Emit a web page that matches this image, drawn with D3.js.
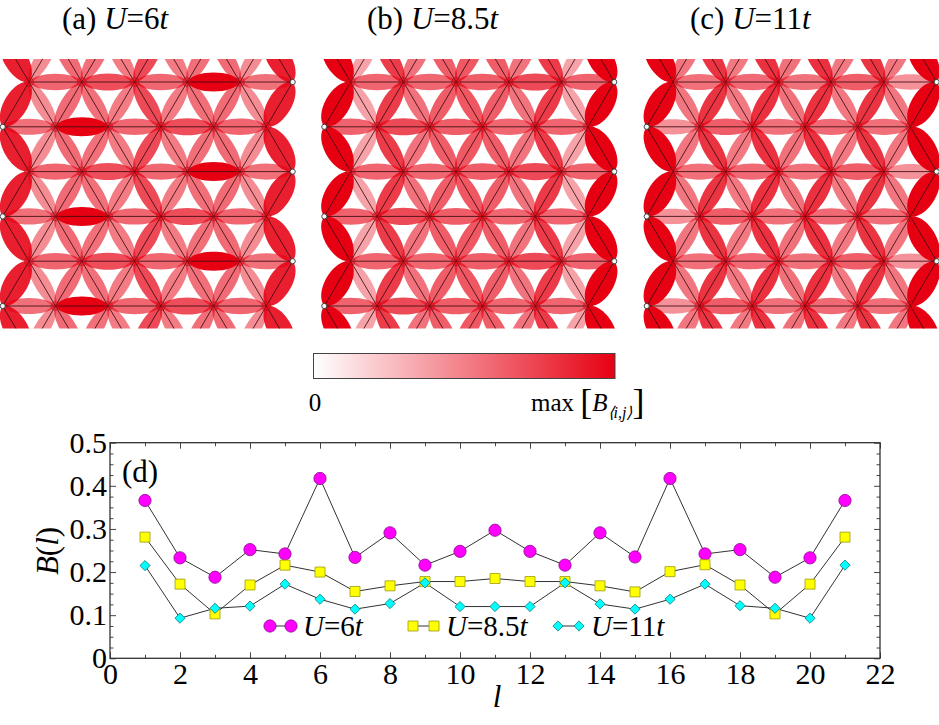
<!DOCTYPE html>
<html>
<head>
<meta charset="utf-8">
<script src="https://cdn.jsdelivr.net/npm/d3@7"></script>
<style>
  body { margin: 0; background: #fff; }
  svg text { font-family: "Liberation Serif", "Times New Roman", serif; }
</style>
</head>
<body>
<svg id="chart" width="939" height="725"></svg>
<script>
// bond column index l (1..21) and the averaged bond values B(l) for each U
const bondCols = d3.range(1, 22);
const B6 = [0.366, 0.233, 0.188, 0.252, 0.242, 0.417, 0.234, 0.291, 0.216, 0.248, 0.297,
            0.248, 0.216, 0.291, 0.235, 0.417, 0.242, 0.252, 0.188, 0.233, 0.366];
const B85 = [0.281, 0.172, 0.103, 0.170, 0.216, 0.200, 0.155, 0.168, 0.178, 0.178, 0.185,
             0.178, 0.178, 0.168, 0.154, 0.201, 0.217, 0.170, 0.103, 0.172, 0.281];
const B11 = [0.215, 0.093, 0.116, 0.121, 0.172, 0.137, 0.114, 0.127, 0.175, 0.120, 0.120,
             0.120, 0.175, 0.126, 0.114, 0.137, 0.172, 0.122, 0.116, 0.093, 0.216];
const uLabels = ["6", "8.5", "11"];
const panelTags = ["(a)", "(b)", "(c)"];
const xTicks = d3.range(0, 23, 2);
const yTicks = [0, 0.1, 0.2, 0.3, 0.4, 0.5];

const RED = "#e60012";
const FONT = '"Liberation Serif", "Times New Roman", serif';
const svg = d3.select("#chart");

// ---------------- lattice panels ----------------
const nCols = 12, nRows = 9;          // half-column positions 0..11, rows 0..8 (rows 0 and 8 clipped)
const panelX = [2.7, 324.3, 646.7];
const panelW = 290;
const rowY0 = 37.2, rowDy = 44.8;

const defs = svg.append("defs");
defs.append("clipPath").attr("id", "latticeClip")
  .append("rect").attr("x", -30).attr("y", 59).attr("width", 1000).attr("height", 269.5);

function lensPath(p0, p1, hw) {
  // petal shape between two sites, max half-width hw at the middle
  const dx = p1[0] - p0[0], dy = p1[1] - p0[1];
  const L = Math.hypot(dx, dy);
  const ux = dx / L, uy = dy / L, nx = -uy, ny = ux;
  const k = hw / 0.75, a = 0.12 * L;
  const c = (p, s, t) => [p[0] + ux * s + nx * t, p[1] + uy * s + ny * t];
  const q1 = c(p0, a, k), q2 = c(p1, -a, k), q3 = c(p1, -a, -k), q4 = c(p0, a, -k);
  return `M${p0[0]},${p0[1]} C${q1[0]},${q1[1]} ${q2[0]},${q2[1]} ${p1[0]},${p1[1]} ` +
         `C${q3[0]},${q3[1]} ${q4[0]},${q4[1]} ${p0[0]},${p0[1]}Z`;
}

// lattice sites and bonds (geometry only; values come from the B arrays)
const sites = [];
for (let r = 0; r < nRows; r++)
  for (let c = r % 2; c < nCols; c += 2) sites.push({ r, c });

const bonds = [];
sites.forEach(s => {
  if (s.c + 2 < nCols) bonds.push({ a: s, b: { r: s.r, c: s.c + 2 }, l: 2 * s.c + 2 });
  if (s.r + 1 < nRows) {
    [-1, 1].forEach(dc => {
      const c2 = s.c + dc;
      if (c2 >= 0 && c2 < nCols)
        bonds.push({ a: s, b: { r: s.r + 1, c: c2 }, l: 2 * Math.min(s.c, c2) + 1 });
    });
  }
});

const ySite = d3.scaleLinear().domain([0, nRows - 1]).range([rowY0, rowY0 + (nRows - 1) * rowDy]);
const widthScale = d3.scaleLinear().domain([0, 1]).range([12.5, 19]);

[B6, B85, B11].forEach((B, pi) => {
  const xSite = d3.scaleLinear().domain([0, nCols - 1]).range([panelX[pi], panelX[pi] + panelW]);
  const level = d3.scaleLinear().domain([0, d3.max(B)]).range([0, 1]);
  const g = svg.append("g").attr("clip-path", "url(#latticeClip)");
  const pos = s => [xSite(s.c), ySite(s.r)];

  g.append("g").selectAll("path").data(bonds).join("path")
    .attr("d", d => {
      const t = level(B[d.l - 1]);
      const edge = d.l === 1 || d.l === bondCols.length;
      return lensPath(pos(d.a), pos(d.b), widthScale(t) / 2 * (edge ? 1.3 : 1));
    })
    .attr("fill", RED)
    .attr("fill-opacity", d => level(B[d.l - 1]));

  g.append("g").selectAll("line").data(bonds).join("line")
    .attr("x1", d => xSite(d.a.c)).attr("y1", d => ySite(d.a.r))
    .attr("x2", d => xSite(d.b.c)).attr("y2", d => ySite(d.b.r))
    .attr("stroke", "#3d0b0e").attr("stroke-width", 1).attr("stroke-opacity", 0.85);

  const inner = sites.filter(s => s.c > 0 && s.c < nCols - 1);
  const outer = sites.filter(s => s.c === 0 || s.c === nCols - 1);
  g.append("g").selectAll("circle").data(inner).join("circle")
    .attr("cx", d => xSite(d.c)).attr("cy", d => ySite(d.r)).attr("r", 4.5)
    .attr("fill", RED).attr("fill-opacity", 0.35)
    .attr("stroke", "#a3101c").attr("stroke-opacity", 0.55).attr("stroke-width", 0.8);
  g.append("g").selectAll("circle").data(outer).join("circle")
    .attr("cx", d => xSite(d.c)).attr("cy", d => ySite(d.r)).attr("r", 2.6)
    .attr("fill", "#f4f8f4").attr("stroke", "#333").attr("stroke-width", 0.9);
});

// panel titles
const titleX = [62, 367, 690];
panelTags.forEach((tag, i) => {
  const t = svg.append("text").attr("x", titleX[i]).attr("y", 29)
    .attr("font-size", 31).attr("fill", "#000");
  t.append("tspan").text(tag + " ");
  t.append("tspan").attr("font-style", "italic").text("U");
  t.append("tspan").text("=" + uLabels[i]);
  t.append("tspan").attr("font-style", "italic").text("t");
});

// ---------------- colour bar ----------------
const grad = defs.append("linearGradient").attr("id", "cbar");
grad.append("stop").attr("offset", "0%").attr("stop-color", "#fff");
grad.append("stop").attr("offset", "100%").attr("stop-color", RED);
svg.append("rect").attr("x", 313.5).attr("y", 353.5).attr("width", 301.5).attr("height", 25)
  .attr("fill", "url(#cbar)").attr("stroke", "#444").attr("stroke-width", 1);
svg.append("text").attr("x", 315).attr("y", 411).attr("text-anchor", "middle")
  .attr("font-size", 25).text("0");
const mx = svg.append("text").attr("x", 531).attr("y", 411).attr("font-size", 25);
mx.append("tspan").text("max ");
mx.append("tspan").attr("font-size", 36).attr("dy", 3).text("[");
mx.append("tspan").attr("font-style", "italic").attr("dy", -3).text("B");
mx.append("tspan").attr("font-size", 16).attr("font-style", "italic").attr("dy", 7).text("\u27e8i,j\u27e9");
mx.append("tspan").attr("font-size", 36).attr("dy", -4).text("]");

// ---------------- B(l) plot ----------------
const plot = { left: 110, right: 880, top: 442.7, bottom: 658.3 };
const x = d3.scaleLinear().domain([0, 22]).range([plot.left, plot.right]);
const y = d3.scaleLinear().domain([0, 0.5]).range([plot.bottom, plot.top]);

const axesG = svg.append("g");
function addAxis(axis, tx, ty, size, ticks, fmt, pad) {
  const a = axis.tickValues(ticks).tickSize(size).tickPadding(pad).tickFormat(fmt);
  const g = axesG.append("g").attr("transform", `translate(${tx},${ty})`).call(a);
  g.select(".domain").remove();
  g.selectAll("line").attr("stroke", "#444").attr("stroke-width", 1);
  g.selectAll("text").attr("font-size", 30).style("font-family", FONT).attr("fill", "#000");
  return g;
}
const xMinor = d3.range(1, 22, 2);
const yMinor = d3.range(0, 0.5001, 0.025).filter(v => Math.abs(v * 10 - Math.round(v * 10)) > 1e-6);
addAxis(d3.axisBottom(x), 0, plot.bottom, -6, xTicks, d3.format("d"), 4);
addAxis(d3.axisBottom(x), 0, plot.bottom, -3.5, xMinor, () => "", 0);
addAxis(d3.axisTop(x), 0, plot.top, -6, xTicks, () => "", 0);
addAxis(d3.axisTop(x), 0, plot.top, -3.5, xMinor, () => "", 0);
addAxis(d3.axisLeft(y), plot.left, 0, -6, yTicks, d => d === 0 ? "0" : d3.format(".1f")(d), 3);
addAxis(d3.axisLeft(y), plot.left, 0, -3.5, yMinor, () => "", 0);
addAxis(d3.axisRight(y), plot.right, 0, -6, yTicks, () => "", 0);
addAxis(d3.axisRight(y), plot.right, 0, -3.5, yMinor, () => "", 0);
svg.append("rect").attr("x", plot.left).attr("y", plot.top)
  .attr("width", plot.right - plot.left).attr("height", plot.bottom - plot.top)
  .attr("fill", "none").attr("stroke", "#333").attr("stroke-width", 1.3);

// axis labels
const yl = svg.append("text").attr("transform", "translate(58,551) rotate(-90)")
  .attr("text-anchor", "middle").attr("font-size", 31);
yl.append("tspan").attr("font-style", "italic").text("B");
yl.append("tspan").text("(");
yl.append("tspan").attr("font-style", "italic").text("l");
yl.append("tspan").text(")");
svg.append("text").attr("x", 497).attr("y", 707).attr("text-anchor", "middle")
  .attr("font-size", 31).attr("font-style", "italic").text("l");
svg.append("text").attr("x", 122).attr("y", 482).attr("font-size", 31).text("(d)");

const series = [
  { u: uLabels[0], values: B6, fill: "#ff00ff", stroke: "#8a0a8a", symbol: d3.symbolCircle, size: 118, rot: 0 },
  { u: uLabels[1], values: B85, fill: "#ffff00", stroke: "#9a9a10", symbol: d3.symbolSquare, size: 100, rot: 0 },
  { u: uLabels[2], values: B11, fill: "#00ffff", stroke: "#16807f", symbol: d3.symbolSquare, size: 52, rot: 45 }
];
const line = d3.line().x((d, i) => x(bondCols[i])).y(d => y(d));

series.forEach(s => {
  svg.append("path").datum(s.values).attr("d", line)
    .attr("fill", "none").attr("stroke", "#333").attr("stroke-width", 1);
});
series.forEach(s => {
  const sym = d3.symbol().type(s.symbol).size(s.size);
  svg.append("g").selectAll("path").data(s.values).join("path")
    .attr("transform", (d, i) => `translate(${x(bondCols[i])},${y(d)}) rotate(${s.rot})`)
    .attr("d", sym)
    .attr("fill", s.fill).attr("stroke", s.stroke).attr("stroke-width", 0.8);
});

// legend
const legendX = [270, 413, 558];
const legendY = 626;
series.forEach((s, i) => {
  const lg = svg.append("g").attr("transform", `translate(${legendX[i]},${legendY})`);
  lg.append("line").attr("x1", 0).attr("x2", 21).attr("stroke", "#333").attr("stroke-width", 1);
  const sym = d3.symbol().type(s.symbol).size(s.size);
  [0, 21].forEach(px => lg.append("path").attr("d", sym)
    .attr("transform", `translate(${px},0) rotate(${s.rot})`)
    .attr("fill", s.fill).attr("stroke", s.stroke).attr("stroke-width", 0.8));
  const t = lg.append("text").attr("x", 33).attr("y", 10).attr("font-size", 29);
  t.append("tspan").attr("font-style", "italic").text("U");
  t.append("tspan").text("=" + s.u);
  t.append("tspan").attr("font-style", "italic").text("t");
});
</script>
</body>
</html>
